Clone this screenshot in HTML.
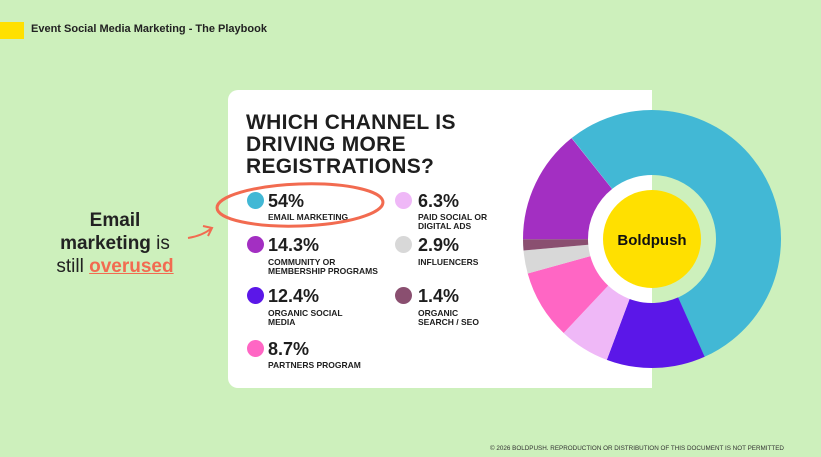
<!DOCTYPE html>
<html><head><meta charset="utf-8"><style>
*{margin:0;padding:0;box-sizing:border-box}
body{width:821px;height:457px;background:#cdf0bc;position:relative;overflow:hidden;font-family:"Liberation Sans",sans-serif;color:#1e1e1e}
.a{position:absolute;white-space:nowrap}
.card{position:absolute;left:228px;top:90px;width:424px;height:298px;background:#fff;border-radius:10px 0 0 10px}
.t{font-weight:bold;font-size:21px;line-height:22px;left:246px;top:112px;letter-spacing:0.3px}
.dot{position:absolute;width:17px;height:17px;border-radius:50%}
.p{font-weight:bold;font-size:18px;line-height:18px}
.l{font-weight:bold;font-size:8.5px;line-height:9px}
</style></head><body>
<div class="a" style="left:0;top:22px;width:24px;height:17px;background:#ffe000"></div>
<div class="a" style="left:31px;top:23px;font-size:11px;font-weight:bold;color:#222">Event Social Media Marketing - The Playbook</div>
<div class="card"></div>
<div class="a t">WHICH CHANNEL IS<br>DRIVING MORE<br>REGISTRATIONS?</div>

<div class="dot" style="left:247px;top:192px;background:#42b8d5"></div>
<div class="a p" style="left:268px;top:192px">54%</div>
<div class="a l" style="left:268px;top:213px">EMAIL MARKETING</div>

<div class="dot" style="left:395px;top:192px;background:#efb8f7"></div>
<div class="a p" style="left:418px;top:192px">6.3%</div>
<div class="a l" style="left:418px;top:213px">PAID SOCIAL OR<br>DIGITAL ADS</div>

<div class="dot" style="left:247px;top:236px;background:#a32fc2"></div>
<div class="a p" style="left:268px;top:236px">14.3%</div>
<div class="a l" style="left:268px;top:258px">COMMUNITY OR<br>MEMBERSHIP PROGRAMS</div>

<div class="dot" style="left:395px;top:236px;background:#d8d8d8"></div>
<div class="a p" style="left:418px;top:236px">2.9%</div>
<div class="a l" style="left:418px;top:258px">INFLUENCERS</div>

<div class="dot" style="left:247px;top:287px;background:#5b17e8"></div>
<div class="a p" style="left:268px;top:287px">12.4%</div>
<div class="a l" style="left:268px;top:309px">ORGANIC SOCIAL<br>MEDIA</div>

<div class="dot" style="left:395px;top:287px;background:#8a4f70"></div>
<div class="a p" style="left:418px;top:287px">1.4%</div>
<div class="a l" style="left:418px;top:309px">ORGANIC<br>SEARCH / SEO</div>

<div class="dot" style="left:247px;top:340px;background:#ff66c4"></div>
<div class="a p" style="left:268px;top:340px">8.7%</div>
<div class="a l" style="left:268px;top:361px">PARTNERS PROGRAM</div>

<div class="a" style="left:30px;top:209px;width:170px;text-align:center;font-size:19px;line-height:23px;color:#222"><b>Email</b><br><b>marketing</b> is<br>still <b style="color:#f26b50;text-decoration:underline">overused</b></div>

<svg class="a" style="left:0;top:0" width="821" height="457">
<ellipse cx="300" cy="205" rx="83" ry="21" fill="none" stroke="#f26b50" stroke-width="3" transform="rotate(-2 300 205)"/>
<path d="M188 238 Q202 236 212 228 M203 226 L212 228 L208 236" fill="none" stroke="#f26b50" stroke-width="2"/>
<g fill="none" stroke-width="65">
<circle cx="652" cy="239" r="96.5" stroke="#42b8d5" stroke-dasharray="327.4 1000" transform="rotate(-128.5 652 239)"/>
<circle cx="652" cy="239" r="96.5" stroke="#5b17e8" stroke-dasharray="75.1 1000" transform="rotate(65.9 652 239)"/>
<circle cx="652" cy="239" r="96.5" stroke="#efb8f7" stroke-dasharray="38.2 1000" transform="rotate(110.5 652 239)"/>
<circle cx="652" cy="239" r="96.5" stroke="#ff66c4" stroke-dasharray="52.7 1000" transform="rotate(133.2 652 239)"/>
<circle cx="652" cy="239" r="96.5" stroke="#d8d8d8" stroke-dasharray="17.5 1000" transform="rotate(164.5 652 239)"/>
<circle cx="652" cy="239" r="96.5" stroke="#8a4f70" stroke-dasharray="8.4 1000" transform="rotate(174.9 652 239)"/>
<circle cx="652" cy="239" r="96.5" stroke="#a32fc2" stroke-dasharray="86.7 1000" transform="rotate(179.9 652 239)"/>
</g>
<circle cx="652" cy="239" r="49" fill="#ffe000"/>
<text x="652" y="245" text-anchor="middle" font-family="Liberation Sans" font-weight="bold" font-size="15" fill="#111">Boldpush</text>
</svg>
<div class="a" style="left:490px;top:445px;font-size:6.3px;color:#333">© 2026 BOLDPUSH. REPRODUCTION OR DISTRIBUTION OF THIS DOCUMENT IS NOT PERMITTED</div>
</body></html>
